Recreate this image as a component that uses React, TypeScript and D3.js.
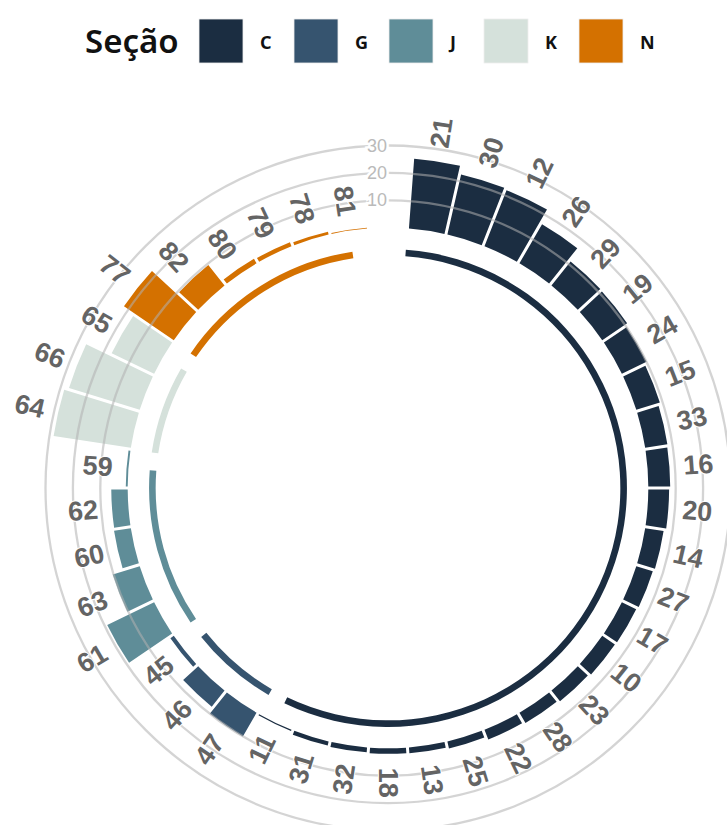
import React from 'react'
import * as d3 from 'd3'

// legend / groups
const sections = ['C', 'G', 'J', 'K', 'N']
const sectionColors = ['#1b2d41', '#36546f', '#5f8d98', '#d5e1db', '#d47100']

// bars, clockwise from the top
const barIds = [
  '21', '30', '12', '26', '29', '19', '24', '15', '33', '16', '20', '14',
  '27', '17', '10', '23', '28', '22', '25', '13', '18', '32', '31', '11',
  '47', '46', '45',
  '61', '63', '60', '62', '59',
  '64', '66', '65',
  '77', '82', '80', '79', '78', '81'
]
const barSections = [
  'C', 'C', 'C', 'C', 'C', 'C', 'C', 'C', 'C', 'C', 'C', 'C',
  'C', 'C', 'C', 'C', 'C', 'C', 'C', 'C', 'C', 'C', 'C', 'C',
  'G', 'G', 'G',
  'J', 'J', 'J', 'J', 'J',
  'K', 'K', 'K',
  'N', 'N', 'N', 'N', 'N', 'N'
]
const barValues = [
  25.5, 22.5, 22, 16.5, 11.2, 11, 10, 9, 8.2, 8, 7.6, 6.8,
  6.3, 5.8, 5.6, 5, 4.4, 3.8, 2.6, 2.1, 2, 1.8, 1.5, 0.5,
  10, 7.5, 1.5,
  19, 10.3, 6.2, 6, 0.7,
  28.5, 27, 17.2,
  22, 9.5, 1.9, 1.6, 1.1, 0.3
]
const gridTicks = [10, 20, 30]

const W = 727
const H = 825
const cx = 388
const cy = 488

export default function App() {
  const slots = barIds.length + 1 // one empty slot at the top
  const angle = d3.scaleLinear().domain([0, slots]).range([0, 2 * Math.PI])
  const radius = d3.scaleLinear().domain([-95, 30]).range([0, 342.5])
  const color = d3.scaleOrdinal<string, string>().domain(sections).range(sectionColors)

  const bars = barIds.map((id, i) => ({id, value: barValues[i], section: barSections[i], pos: i + 1}))

  const barArc = d3.arc<any>()
    .innerRadius(radius(0))
    .outerRadius(d => radius(d.value))
    .startAngle(d => angle(d.pos - 0.5))
    .endAngle(d => angle(d.pos + 0.5))
    .padAngle(0.03)
    .padRadius(100)

  // group rings under the bars
  const groups = sections.map(s => {
    const ps = bars.filter(b => b.section === s).map(b => b.pos)
    return {section: s, start: d3.min(ps), end: d3.max(ps)}
  })
  const ringArc = d3.arc<any>()
    .innerRadius(radius(-9) - 3.3)
    .outerRadius(radius(-9) + 3.3)
    .startAngle(d => angle(d.start - 0.5))
    .endAngle(d => angle(d.end))

  const labelFont = '"Liberation Sans", Arial, sans-serif'

  return (
    <svg width={W} height={H} style={{position: 'absolute', left: 0, top: 0, display: 'block'}}>
      <rect width={W} height={H} fill="#fff" />

      {/* legend */}
      <g fontFamily='"Noto Sans", sans-serif'>
        <text x={85} y={53} fontSize={33} fontWeight={600} fill="#111">Seção</text>
        {sections.map((s, i) => (
          <g key={s} transform={`translate(${199 + i * 95},19)`}>
            <rect width={44} height={44} fill={color(s)} stroke="#eee" strokeWidth={0.8} />
            <text x={61} y={23} fontSize={18} fontWeight={700} fill="#111" dominantBaseline="central">{s}</text>
          </g>
        ))}
      </g>

      <g transform={`translate(${cx},${cy})`}>
        {bars.map(b => (
          <path key={b.id} d={barArc(b)} fill={color(b.section)} />
        ))}
        {groups.map(g => (
          <path key={g.section} d={ringArc(g)} fill={color(g.section)} />
        ))}

        {gridTicks.map(t => (
          <circle key={t} r={radius(t)} fill="none" stroke="#b0b0b0" strokeOpacity={0.55} strokeWidth={2.3} />
        ))}
        {gridTicks.map(t => (
          <text key={'t' + t} x={-1} y={-radius(t)} textAnchor="end" dominantBaseline="central"
            fontFamily={labelFont} fontSize={18} fill="#bababa"
            stroke="#fff" strokeWidth={5} paintOrder="stroke">{t}</text>
        ))}

        {bars.map(b => {
          const a = angle(b.pos)
          const deg = (a * 180) / Math.PI
          const r = radius(b.value) + 14
          const x = r * Math.sin(a)
          const y = -r * Math.cos(a)
          const right = deg <= 180.001
          const rot = right ? deg - 90 : deg + 90
          return (
            <text key={'l' + b.id} transform={`translate(${x},${y}) rotate(${rot})`}
              textAnchor={right ? 'start' : 'end'} dominantBaseline="central"
              fontFamily={labelFont} fontWeight={700} fontSize={27} fill="#646464"
              stroke="#fff" strokeWidth={2} paintOrder="stroke">{b.id}</text>
          )
        })}
      </g>
    </svg>
  )
}
